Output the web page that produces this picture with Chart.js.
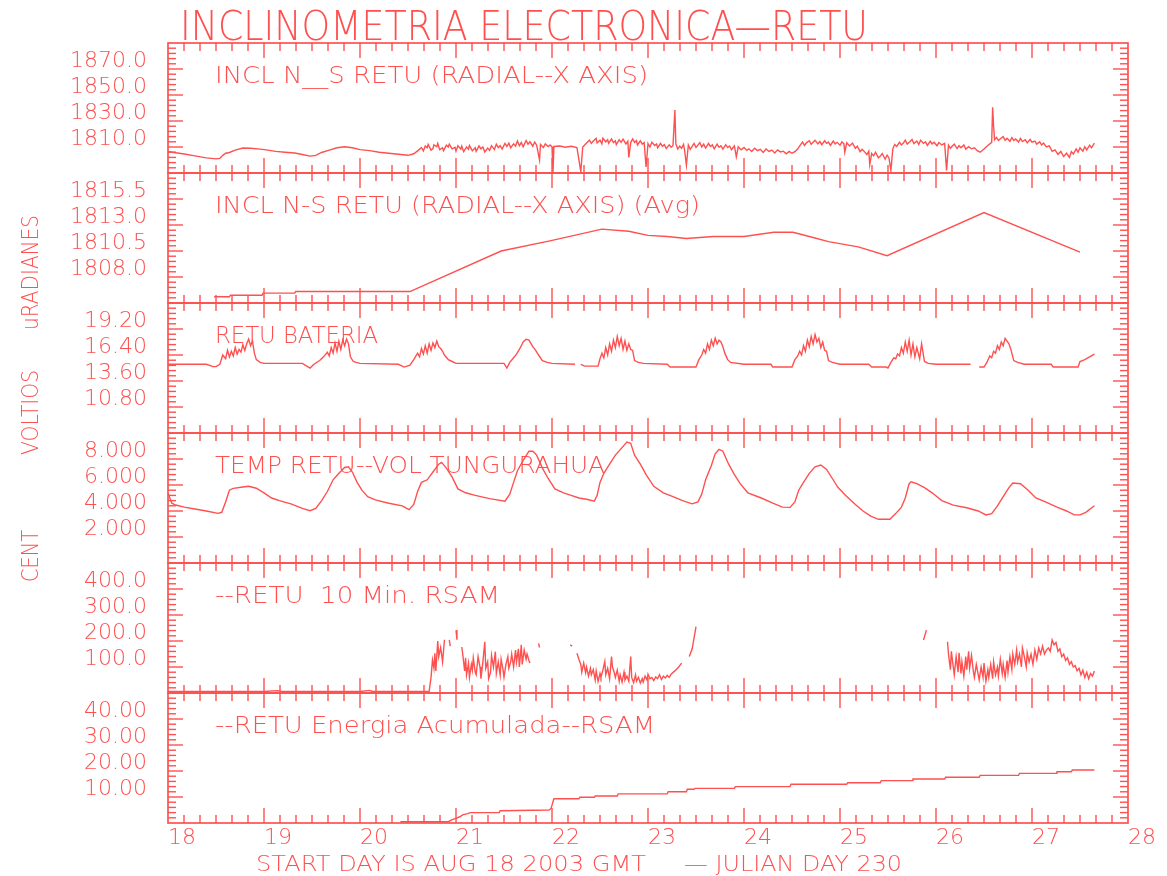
<!DOCTYPE html>
<html>
<head>
<meta charset="utf-8">
<title>INCLINOMETRIA ELECTRONICA-RETU</title>
<script src="https://cdn.jsdelivr.net/npm/chart.js@4.4.1/dist/chart.umd.min.js"></script>
<style>
  html, body { margin: 0; padding: 0; background: #ffffff; }
  #wrap { position: relative; width: 1167px; height: 876px; }
  canvas { display: block; }
</style>
</head>
<body>
<div id="wrap"><canvas id="c" width="1167" height="876"></canvas></div>
<script>
// ---- tick labels ----
const dayTicks    = [18, 19, 20, 21, 22, 23, 24, 25, 26, 27, 28];
const inclTicks   = [1810, 1830, 1850, 1870];
const avgTicks    = [1808.0, 1810.5, 1813.0, 1815.5];
const batTicks    = [10.8, 13.6, 16.4, 19.2];
const tempTicks   = [2, 4, 6, 8];
const rsamTicks   = [100, 200, 300, 400];
const energyTicks = [10, 20, 30, 40];

// ---- series: [day of August 2003, value] ----
const inclNS = [
  [18.00,1806.5],[18.08,1805.6],[18.17,1804.6],[18.28,1803.2],[18.40,1801.6],[18.50,1800.9],[18.54,1801.2],
  [18.57,1803.6],[18.60,1805.2],[18.64,1805.8],[18.70,1807.6],[18.78,1809.2],[18.86,1809.0],[18.96,1808.4],
  [19.04,1807.6],[19.12,1806.6],[19.22,1806.0],[19.32,1805.4],[19.40,1804.2],[19.48,1803.0],[19.54,1803.6],
  [19.60,1805.8],[19.68,1807.6],[19.76,1809.4],[19.84,1810.2],[19.92,1809.4],[20.00,1808.0],[20.10,1807.2],
  [20.20,1806.0],[20.30,1805.2],[20.40,1804.4],[20.50,1803.6],[20.56,1804.8],[20.60,1807.0],[20.64,1809.6],
  [20.66,1807.0],[20.68,1810.8],[20.70,1809.4],[20.71,1812.0],[20.74,1807.6],[20.76,1808.8],[20.77,1811.6],
  [20.80,1810.2],[20.81,1812.8],[20.83,1808.0],[20.86,1809.4],[20.87,1807.2],[20.90,1811.4],[20.92,1810.0],
  [20.93,1812.2],[20.96,1808.6],[20.99,1809.8],[21.00,1806.8],[21.02,1811.0],[21.05,1808.4],[21.06,1810.6],
  [21.08,1806.4],[21.11,1810.0],[21.13,1808.2],[21.14,1811.2],[21.17,1807.0],[21.20,1809.4],[21.21,1806.6],
  [21.24,1810.8],[21.26,1808.6],[21.28,1810.0],[21.30,1806.2],[21.33,1809.2],[21.35,1807.4],[21.37,1811.0],
  [21.40,1808.0],[21.42,1812.2],[21.44,1809.6],[21.46,1811.0],[21.48,1808.4],[21.51,1812.8],[21.53,1810.4],
  [21.55,1813.0],[21.57,1809.4],[21.60,1812.4],[21.62,1810.6],[21.64,1814.6],[21.66,1811.0],[21.68,1813.4],
  [21.70,1810.2],[21.73,1815.0],[21.75,1812.2],[21.77,1814.0],[21.80,1810.6],[21.82,1813.8],[21.84,1811.4],
  [21.87,1800.0],[21.88,1812.0],[21.91,1809.6],[21.93,1812.4],[21.96,1810.4],[21.98,1811.6],[22.00,1810.2],
  [22.01,1790.6],[22.02,1810.4],[22.08,1810.8],[22.14,1809.8],[22.20,1810.6],[22.26,1809.6],[22.30,1791.0],
  [22.32,1810.0],[22.36,1813.0],[22.39,1815.2],[22.41,1812.8],[22.43,1814.6],[22.46,1816.6],[22.47,1813.2],
  [22.50,1815.2],[22.52,1812.4],[22.53,1816.8],[22.56,1814.0],[22.58,1815.6],[22.59,1812.8],[22.62,1816.2],
  [22.64,1813.4],[22.66,1814.8],[22.67,1811.8],[22.70,1815.6],[22.72,1813.6],[22.74,1816.0],[22.77,1812.4],
  [22.79,1814.4],[22.80,1802.0],[22.82,1813.4],[22.84,1816.2],[22.86,1813.6],[22.88,1815.0],[22.89,1811.6],
  [22.92,1814.8],[22.94,1812.2],[22.96,1813.4],[22.98,1794.6],[23.00,1812.6],[23.02,1810.0],[23.04,1813.6],
  [23.07,1811.2],[23.09,1812.4],[23.10,1809.4],[23.13,1812.8],[23.15,1810.6],[23.17,1811.8],[23.19,1808.8],
  [23.22,1811.6],[23.24,1809.8],[23.26,1811.0],[23.28,1838.5],[23.29,1812.4],[23.31,1808.4],[23.33,1810.6],
  [23.35,1809.0],[23.37,1812.0],[23.38,1808.2],[23.40,1796.0],[23.42,1811.6],[23.44,1808.2],[23.46,1810.4],
  [23.48,1812.8],[23.50,1809.6],[23.52,1811.4],[23.54,1813.4],[23.56,1810.0],[23.58,1812.2],[23.60,1809.2],
  [23.63,1812.8],[23.65,1810.4],[23.67,1811.6],[23.69,1808.6],[23.72,1812.2],[23.74,1809.8],[23.76,1811.0],
  [23.78,1808.4],[23.81,1811.8],[23.83,1809.6],[23.85,1810.8],[23.87,1808.0],[23.90,1810.8],[23.92,1802.4],
  [23.94,1810.2],[23.97,1807.8],[24.00,1809.6],[24.03,1807.4],[24.05,1808.6],[24.08,1806.6],[24.11,1809.0],
  [24.14,1807.2],[24.17,1808.2],[24.20,1805.8],[24.23,1808.4],[24.26,1806.6],[24.29,1807.6],[24.32,1805.4],
  [24.35,1807.8],[24.38,1806.2],[24.41,1806.8],[24.44,1804.8],[24.47,1806.6],[24.50,1805.2],[24.53,1806.4],
  [24.56,1808.6],[24.59,1811.8],[24.61,1813.8],[24.63,1811.2],[24.65,1813.2],[24.68,1814.8],[24.70,1812.0],
  [24.72,1813.6],[24.74,1815.2],[24.77,1812.4],[24.79,1814.2],[24.81,1811.8],[24.84,1814.8],[24.86,1812.8],
  [24.88,1813.8],[24.90,1811.2],[24.93,1814.6],[24.95,1812.4],[24.97,1813.6],[25.00,1811.4],[25.02,1814.0],
  [25.04,1812.6],[25.05,1806.0],[25.07,1813.2],[25.10,1810.8],[25.13,1813.0],[25.16,1809.0],[25.18,1810.6],
  [25.21,1806.4],[25.23,1808.2],[25.25,1806.8],[25.28,1804.2],[25.30,1806.8],[25.31,1796.4],[25.33,1805.0],
  [25.35,1803.2],[25.37,1806.0],[25.40,1801.6],[25.42,1803.0],[25.44,1805.0],[25.47,1800.6],[25.49,1803.8],
  [25.51,1801.6],[25.53,1792.0],[25.55,1808.6],[25.57,1812.0],[25.59,1810.4],[25.62,1813.6],[25.64,1811.6],
  [25.66,1813.0],[25.68,1815.2],[25.70,1812.2],[25.73,1814.2],[25.75,1815.8],[25.77,1812.6],[25.80,1814.6],
  [25.82,1812.0],[25.84,1815.2],[25.87,1812.8],[25.89,1814.0],[25.91,1811.2],[25.94,1814.4],[25.96,1812.4],
  [25.98,1813.6],[26.01,1811.0],[26.03,1813.4],[26.06,1811.6],[26.09,1812.8],[26.11,1792.0],[26.13,1811.4],
  [26.15,1809.0],[26.17,1810.8],[26.19,1812.2],[26.22,1808.8],[26.24,1811.0],[26.26,1809.4],[26.29,1811.6],
  [26.31,1808.4],[26.34,1810.2],[26.37,1808.6],[26.40,1809.4],[26.43,1807.2],[26.46,1806.0],[26.50,1808.4],
  [26.54,1811.2],[26.58,1813.6],[26.59,1840.6],[26.60,1826.0],[26.61,1815.6],[26.63,1817.4],[26.65,1815.0],
  [26.67,1816.4],[26.70,1818.0],[26.72,1815.2],[26.74,1816.8],[26.77,1814.4],[26.79,1817.2],[26.81,1815.0],
  [26.83,1816.2],[26.86,1813.8],[26.88,1816.6],[26.90,1814.2],[26.93,1815.6],[26.95,1813.2],[26.98,1815.8],
  [27.00,1813.8],[27.03,1814.6],[27.05,1812.2],[27.08,1814.0],[27.10,1811.6],[27.12,1813.0],[27.15,1810.0],
  [27.18,1810.8],[27.21,1806.6],[27.24,1807.8],[27.27,1804.4],[27.30,1806.6],[27.33,1802.6],[27.36,1805.2],
  [27.39,1802.0],[27.41,1806.4],[27.43,1804.6],[27.46,1808.6],[27.48,1806.0],[27.50,1809.4],[27.53,1806.8],
  [27.55,1810.2],[27.57,1807.8],[27.60,1811.4],[27.62,1809.4],[27.65,1813.0]
];

const inclAvg = [
  [18.48,1806.10],[18.64,1806.10],[18.65,1806.25],[18.98,1806.25],[18.99,1806.45],[19.32,1806.45],
  [19.33,1806.60],[20.52,1806.60],[21.47,1810.50],[21.99,1811.50],[22.52,1812.60],[22.80,1812.40],
  [23.00,1812.00],[23.20,1811.90],[23.40,1811.70],[23.68,1811.90],[24.00,1811.90],[24.31,1812.30],
  [24.51,1812.30],[24.72,1811.80],[24.88,1811.40],[25.19,1810.90],[25.49,1810.05],[26.50,1814.20],
  [27.50,1810.40]
];

const bateria = [
  [18.00,15.4],[18.40,15.4],[18.47,15.15],[18.50,15.15],[18.54,15.4],[18.57,16.4],[18.60,16.0],[18.62,16.9],
  [18.64,16.2],[18.66,16.8],[18.68,16.3],[18.70,17.2],[18.72,16.5],[18.74,17.0],[18.76,16.7],[18.78,17.5],
  [18.80,16.9],[18.82,17.6],[18.84,18.1],[18.86,17.4],[18.88,17.9],[18.90,16.6],[18.92,15.9],[18.96,15.6],
  [19.00,15.5],[19.40,15.5],[19.48,15.0],[19.52,15.4],[19.58,15.8],[19.62,16.2],[19.66,16.7],[19.68,16.3],
  [19.70,17.2],[19.72,16.6],[19.74,17.7],[19.76,16.8],[19.78,17.9],[19.80,17.0],[19.82,18.0],[19.84,17.4],
  [19.86,18.1],[19.88,17.6],[19.90,16.2],[19.93,15.7],[19.96,15.6],[20.00,15.5],[20.40,15.4],[20.46,15.1],
  [20.52,15.3],[20.56,15.9],[20.60,16.6],[20.62,16.2],[20.64,17.1],[20.66,16.5],[20.68,17.4],[20.70,16.6],
  [20.72,17.6],[20.74,16.9],[20.76,17.7],[20.78,17.2],[20.80,17.9],[20.82,17.3],[20.84,17.1],[20.86,16.8],
  [20.88,16.4],[20.92,15.9],[20.96,15.7],[21.00,15.5],[21.50,15.5],[21.53,15.0],[21.56,15.6],[21.60,16.1],
  [21.63,16.5],[21.66,17.0],[21.68,17.4],[21.70,17.8],[21.73,18.1],[21.76,18.0],[21.80,17.3],[21.83,16.9],
  [21.86,16.4],[21.90,15.8],[21.95,15.6],[22.00,15.5],[22.24,15.4],[22.27,null],[22.30,15.4],[22.34,15.2],
  [22.48,15.2],[22.50,16.0],[22.52,16.6],[22.54,16.1],[22.56,17.2],[22.58,16.4],[22.60,17.6],[22.62,16.8],
  [22.64,18.0],[22.66,17.2],[22.68,18.4],[22.70,17.4],[22.72,18.2],[22.74,17.0],[22.76,17.9],[22.78,16.9],
  [22.80,17.6],[22.82,17.0],[22.84,16.9],[22.86,15.8],[22.90,15.6],[22.95,15.5],[23.20,15.4],[23.23,15.1],
  [23.50,15.1],[23.53,15.9],[23.56,16.4],[23.58,17.0],[23.60,16.6],[23.62,17.6],[23.64,17.0],[23.66,18.0],
  [23.68,17.4],[23.70,18.2],[23.72,17.6],[23.74,18.0],[23.76,17.8],[23.78,17.3],[23.80,16.6],[23.83,15.9],
  [23.86,15.6],[24.00,15.4],[24.28,15.4],[24.30,15.1],[24.50,15.1],[24.53,15.9],[24.56,16.3],[24.58,16.8],
  [24.60,16.4],[24.62,17.4],[24.64,16.8],[24.66,18.0],[24.68,17.3],[24.70,18.4],[24.72,17.6],[24.74,18.6],
  [24.76,17.8],[24.78,18.2],[24.80,17.2],[24.82,17.8],[24.84,16.9],[24.86,16.8],[24.88,15.8],[24.92,15.6],
  [25.00,15.4],[25.30,15.4],[25.33,15.1],[25.48,15.1],[25.50,15.0],[25.53,15.6],[25.56,16.1],[25.58,16.0],
  [25.60,16.5],[25.62,16.3],[25.64,17.2],[25.66,16.6],[25.68,17.8],[25.70,16.8],[25.72,18.0],[25.74,16.4],
  [25.76,17.6],[25.78,16.2],[25.80,17.2],[25.83,16.0],[25.85,17.6],[25.88,15.7],[25.92,15.5],[26.00,15.4],
  [26.36,15.4],[26.40,null],[26.45,15.1],[26.50,15.1],[26.53,15.6],[26.56,16.3],[26.58,16.1],[26.60,16.8],
  [26.62,16.6],[26.64,17.4],[26.66,17.0],[26.68,17.8],[26.70,17.4],[26.72,18.2],[26.74,17.9],[26.76,17.6],
  [26.78,17.0],[26.81,15.8],[26.85,15.6],[26.92,15.4],[27.20,15.4],[27.22,15.1],[27.48,15.1],[27.50,15.7],
  [27.55,15.9],[27.60,16.2],[27.65,16.5]
];

const temperatura = [
  [18.00,5.36],[18.04,4.60],[18.08,4.46],[18.17,4.30],[18.28,4.15],[18.40,4.00],[18.52,3.82],[18.56,3.90],
  [18.60,4.70],[18.64,5.60],[18.68,5.74],[18.78,5.85],[18.84,5.90],[18.92,5.75],[19.00,5.40],[19.08,5.00],
  [19.16,4.80],[19.28,4.55],[19.40,4.20],[19.48,4.02],[19.54,4.20],[19.60,4.80],[19.66,5.50],[19.72,6.40],
  [19.78,6.90],[19.84,7.35],[19.88,7.40],[19.92,7.00],[19.97,6.20],[20.02,5.60],[20.08,5.10],[20.16,4.85],
  [20.30,4.60],[20.44,4.40],[20.51,4.10],[20.56,4.50],[20.60,5.50],[20.64,6.20],[20.70,6.40],[20.76,7.00],
  [20.82,7.60],[20.85,7.74],[20.90,7.30],[20.96,6.60],[21.02,5.70],[21.10,5.40],[21.20,5.20],[21.35,4.95],
  [21.51,4.75],[21.56,5.30],[21.60,6.20],[21.64,7.10],[21.70,7.90],[21.76,8.60],[21.80,8.60],[21.84,8.30],
  [21.90,7.30],[21.96,6.50],[22.03,5.70],[22.12,5.40],[22.20,5.20],[22.28,5.00],[22.36,4.90],[22.44,4.75],
  [22.47,5.20],[22.50,6.20],[22.54,6.90],[22.60,7.60],[22.66,8.30],[22.72,8.80],[22.78,9.30],[22.82,9.20],
  [22.86,8.30],[22.92,7.60],[22.98,6.80],[23.06,5.90],[23.16,5.40],[23.26,5.10],[23.36,4.80],[23.46,4.55],
  [23.52,4.70],[23.56,5.30],[23.60,6.40],[23.66,7.50],[23.70,8.40],[23.74,8.74],[23.78,8.60],[23.84,7.60],
  [23.90,6.80],[23.96,6.10],[24.04,5.40],[24.18,5.00],[24.30,4.60],[24.40,4.30],[24.48,4.28],[24.53,4.70],
  [24.57,5.60],[24.62,6.20],[24.68,6.90],[24.74,7.40],[24.80,7.54],[24.86,7.20],[24.92,6.50],[24.98,5.80],
  [25.06,5.20],[25.16,4.50],[25.24,4.00],[25.32,3.60],[25.40,3.36],[25.52,3.36],[25.58,3.80],[25.64,4.30],
  [25.68,5.00],[25.72,6.10],[25.74,6.25],[25.80,6.10],[25.88,5.80],[25.96,5.40],[26.06,4.80],[26.18,4.45],
  [26.32,4.25],[26.44,4.00],[26.52,3.70],[26.58,3.80],[26.64,4.40],[26.70,5.10],[26.76,5.80],[26.80,6.15],
  [26.88,6.10],[26.96,5.60],[27.04,5.00],[27.14,4.70],[27.26,4.30],[27.36,4.00],[27.44,3.70],[27.50,3.70],
  [27.56,3.90],[27.65,4.40]
];

const rsam10 = [
  [18.00,6],[18.50,6],[19.00,6],[19.14,9],[19.18,6],[20.00,6],[20.10,10],[20.13,6],[20.72,6],
  [20.74,60],[20.755,127],[20.77,95],[20.78,153],[20.79,85],[20.81,200],[20.82,140],[20.84,175],[20.86,120],
  [20.88,205],[20.90,null],[20.93,204],[20.94,180],[20.95,null],[21.00,242],[21.01,205],[21.02,null],
  [21.06,177],[21.07,150],[21.09,85],[21.10,135],[21.11,70],[21.13,115],[21.14,60],[21.16,110],[21.17,88],
  [21.18,135],[21.20,80],[21.21,70],[21.23,140],[21.25,100],[21.26,55],[21.28,120],[21.30,197],[21.31,95],
  [21.33,120],[21.34,55],[21.36,80],[21.37,145],[21.39,100],[21.41,159],[21.42,75],[21.44,120],[21.46,69],
  [21.47,130],[21.49,90],[21.50,60],[21.52,110],[21.54,140],[21.55,95],[21.57,120],[21.58,150],[21.60,100],
  [21.62,165],[21.63,120],[21.65,170],[21.66,100],[21.68,185],[21.69,110],[21.71,165],[21.73,130],
  [21.74,150],[21.76,125],[21.77,115],[21.79,null],[21.86,191],[21.87,175],[21.88,null],
  [22.19,185],[22.21,180],[22.22,null],[22.26,153],[22.28,130],[22.30,110],[22.31,80],[22.33,115],[22.35,78],
  [22.36,100],[22.38,65],[22.40,95],[22.41,70],[22.43,90],[22.45,50],[22.46,85],[22.48,45],[22.50,75],
  [22.51,60],[22.53,88],[22.55,121],[22.56,70],[22.58,95],[22.60,55],[22.62,140],[22.63,100],[22.65,77],
  [22.66,60],[22.68,88],[22.70,45],[22.71,70],[22.73,42],[22.75,80],[22.76,50],[22.78,65],[22.80,45],
  [22.82,140],[22.83,60],[22.85,40],[22.87,70],[22.88,45],[22.90,60],[22.92,38],[22.94,55],[22.95,42],
  [22.97,65],[22.99,50],[23.00,72],[23.02,55],[23.04,60],[23.06,48],[23.08,62],[23.10,55],[23.12,70],
  [23.14,52],[23.16,65],[23.18,58],[23.20,68],[23.22,60],[23.24,72],[23.28,85],[23.32,100],[23.35,115],
  [23.38,null],[23.43,140],[23.46,170],[23.48,212],[23.50,255],[23.51,null],
  [25.87,204],[25.90,242],[25.91,null],
  [26.12,197],[26.13,150],[26.15,90],[26.16,160],[26.18,100],[26.19,70],[26.21,140],[26.23,80],[26.24,155],
  [26.26,75],[26.27,120],[26.29,65],[26.31,140],[26.32,90],[26.34,160],[26.35,95],[26.37,145],[26.39,80],
  [26.40,60],[26.42,110],[26.44,70],[26.45,50],[26.47,100],[26.49,60],[26.50,115],[26.52,45],[26.54,90],
  [26.55,60],[26.57,110],[26.59,55],[26.60,120],[26.62,70],[26.64,100],[26.65,65],[26.67,130],[26.69,75],
  [26.70,110],[26.72,60],[26.74,125],[26.75,80],[26.77,140],[26.79,90],[26.80,150],[26.82,110],[26.84,165],
  [26.85,120],[26.87,150],[26.89,100],[26.90,173],[26.92,140],[26.94,100],[26.95,155],[26.97,120],
  [26.99,150],[27.01,110],[27.03,165],[27.05,130],[27.07,173],[27.09,150],[27.11,180],[27.13,150],
  [27.15,165],[27.17,173],[27.19,160],[27.21,204],[27.23,185],[27.25,195],[27.27,160],[27.29,170],
  [27.31,140],[27.33,150],[27.35,125],[27.37,135],[27.39,110],[27.41,120],[27.43,100],[27.45,105],
  [27.47,85],[27.49,95],[27.51,70],[27.53,88],[27.55,60],[27.57,80],[27.59,55],[27.61,75],[27.63,65],[27.65,85]
];

const energia = [
  [20.42,0.5],[20.92,0.5],[20.96,1.3],[21.00,1.8],[21.04,2.4],[21.07,3.1],[21.12,3.6],[21.15,4.0],
  [21.45,4.0],[21.46,4.7],[21.97,5.0],[21.99,5.6],[22.02,9.3],[22.28,9.3],[22.29,9.9],[22.44,9.9],
  [22.45,10.4],[22.68,10.4],[22.69,11.2],[23.20,11.2],[23.21,12.0],[23.40,12.0],[23.41,13.0],[23.48,13.0],
  [23.49,13.3],[23.90,13.3],[23.91,14.0],[24.48,14.0],[24.49,14.9],[25.07,14.9],[25.08,15.5],[25.42,15.5],
  [25.43,16.3],[25.75,16.3],[25.76,16.9],[26.09,16.9],[26.10,17.6],[26.45,17.6],[26.46,18.3],[26.86,18.3],
  [26.87,19.1],[27.25,19.1],[27.26,19.7],[27.41,19.7],[27.42,20.4],[27.65,20.4]
];

// ---- panel definitions (top to bottom) ----
const INK = '#ff5050';
const FAMILY = "'DejaVu Sans', 'Liberation Sans', sans-serif";
const WEIGHT = '200';

const panels = [
  { id: 'yIncl',   series: inclNS,      min: 1790,   max: 1890, step: 20,  ticks: inclTicks,   dec: 1,
    title: 'INCL N__S RETU (RADIAL--X AXIS)',       titleW: 433 },
  { id: 'yAvg',    series: inclAvg,     min: 1805.5, max: 1818, step: 2.5, ticks: avgTicks,    dec: 1,
    title: 'INCL N-S RETU (RADIAL--X AXIS) (Avg)',  titleW: 485 },
  { id: 'yBat',    series: bateria,     min: 8,      max: 22,   step: 2.8, ticks: batTicks,    dec: 2,
    title: 'RETU BATERIA',                          titleW: 163 },
  { id: 'yTemp',   series: temperatura, min: 0,      max: 10,   step: 2,   ticks: tempTicks,   dec: 3,
    title: 'TEMP RETU--VOL TUNGURAHUA',             titleW: 390 },
  { id: 'yRsam',   series: rsam10,      min: 0,      max: 500,  step: 100, ticks: rsamTicks,   dec: 1,
    title: '--RETU  10 Min. RSAM',                  titleW: 285 },
  { id: 'yEnergy', series: energia,     min: 0,      max: 50,   step: 10,  ticks: energyTicks, dec: 2,
    title: '--RETU Energia Acumulada--RSAM',        titleW: 440 }
];

// draw a string stretched/condensed to an exact width
function fitText(ctx, text, x, y, width, size) {
  ctx.font = `${WEIGHT} ${size}px ${FAMILY}`;
  const w = ctx.measureText(text).width;
  ctx.save();
  ctx.translate(x, y);
  ctx.scale(width / w, 1);
  ctx.fillText(text, 0, 0);
  ctx.restore();
}

function fitTextUp(ctx, text, x, yBottom, length, size) {
  ctx.font = `${WEIGHT} ${size}px ${FAMILY}`;
  const w = ctx.measureText(text).width;
  ctx.save();
  ctx.translate(x, yBottom);
  ctx.rotate(-Math.PI / 2);
  ctx.scale(length / w, 1);
  ctx.fillText(text, 0, 0);
  ctx.restore();
}

// frames, inward tick marks and annotations for every panel
const framePlugin = {
  id: 'panelFrames',
  afterDraw(chart) {
    const ctx = chart.ctx;
    const xs = chart.scales.x;
    const L = xs.left, R = xs.right;
    ctx.save();
    ctx.strokeStyle = INK;
    ctx.fillStyle = INK;
    ctx.lineCap = 'butt';

    const seg = (x1, y1, x2, y2) => { ctx.beginPath(); ctx.moveTo(x1, y1); ctx.lineTo(x2, y2); ctx.stroke(); };

    panels.forEach(p => {
      const ys = chart.scales[p.id];
      const T = ys.top, B = ys.bottom;
      ctx.lineWidth = 1.7;
      ctx.strokeRect(L, T, R - L, B - T);
      ctx.lineWidth = 1.4;
      // day ticks every 4 hours, longer at whole days
      const d0 = dayTicks[0], d1 = dayTicks[dayTicks.length - 1];
      const nx = Math.round((d1 - d0) * 6);
      for (let k = 1; k < nx; k++) {
        const px = xs.getPixelForValue(d0 + k / 6);
        const len = k % 6 === 0 ? 15 : 8;
        seg(px, T, px, T + len);
        seg(px, B, px, B - len);
      }
      // value ticks, five minor per labelled step
      const ny = Math.round((p.max - p.min) / (p.step / 5));
      for (let k = 1; k < ny; k++) {
        const py = ys.getPixelForValue(p.min + k * p.step / 5);
        const len = k % 5 === 0 ? 15 : 8;
        seg(L, py, L + len, py);
        seg(R, py, R - len, py);
      }
      ctx.textBaseline = 'alphabetic';
      fitText(ctx, p.title, 215, T + 39.5, p.titleW, 23);
    });

    // main title
    fitText(ctx, 'INCLINOMETRIA ELECTRONICA\u2014RETU', 180, 40, 688, 41);
    // units down the left margin
    fitTextUp(ctx, 'uRADIANES', 38, 330, 115, 23);
    fitTextUp(ctx, 'VOLTIOS', 38, 455, 85, 23);
    fitTextUp(ctx, 'CENT', 38, 582, 52, 23);
    // time reference line
    fitText(ctx, 'START DAY IS AUG 18 2003 GMT', 256, 871, 390, 21);
    fitText(ctx, '\u2014 JULIAN DAY 230', 684, 871, 218, 21);
    ctx.restore();
  }
};

const tickFont = { family: FAMILY, size: 22, weight: WEIGHT };

const scales = {
  x: {
    type: 'linear', position: 'bottom', min: dayTicks[0], max: dayTicks[dayTicks.length - 1],
    grid: { display: false, drawTicks: false }, border: { display: false },
    afterBuildTicks: s => { s.ticks = dayTicks.map(v => ({ value: v })); },
    afterFit: s => { s.height = 53; },
    ticks: { align: 'start', padding: 2, autoSkip: false, maxRotation: 0, color: INK,
             font: tickFont, callback: v => String(v) }
  }
};
panels.forEach((p, i) => {
  scales[p.id] = {
    type: 'linear', position: 'left', stack: 'panels', stackWeight: 1, weight: panels.length - i,
    min: p.min, max: p.max,
    grid: { display: false, drawTicks: false }, border: { display: false },
    afterBuildTicks: s => { s.ticks = p.ticks.map(v => ({ value: v })); },
    afterFit: s => { s.width = 168; },
    ticks: { padding: 21, labelOffset: -8, autoSkip: false, color: INK,
             font: tickFont, callback: v => Number(v).toFixed(p.dec) }
  };
});

new Chart(document.getElementById('c'), {
  type: 'line',
  data: {
    datasets: panels.map(p => ({
      data: p.series.map(([x, y]) => ({ x, y })),
      yAxisID: p.id,
      borderColor: INK,
      borderWidth: 1.4,
      pointRadius: 0,
      tension: 0,
      spanGaps: false,
      fill: false
    }))
  },
  options: {
    responsive: false,
    animation: false,
    devicePixelRatio: 1,
    layout: { padding: { top: 43, right: 39, left: 0, bottom: 0 } },
    plugins: { legend: { display: false }, tooltip: { enabled: false }, title: { display: false } },
    scales
  },
  plugins: [framePlugin]
});
</script>
</body>
</html>
